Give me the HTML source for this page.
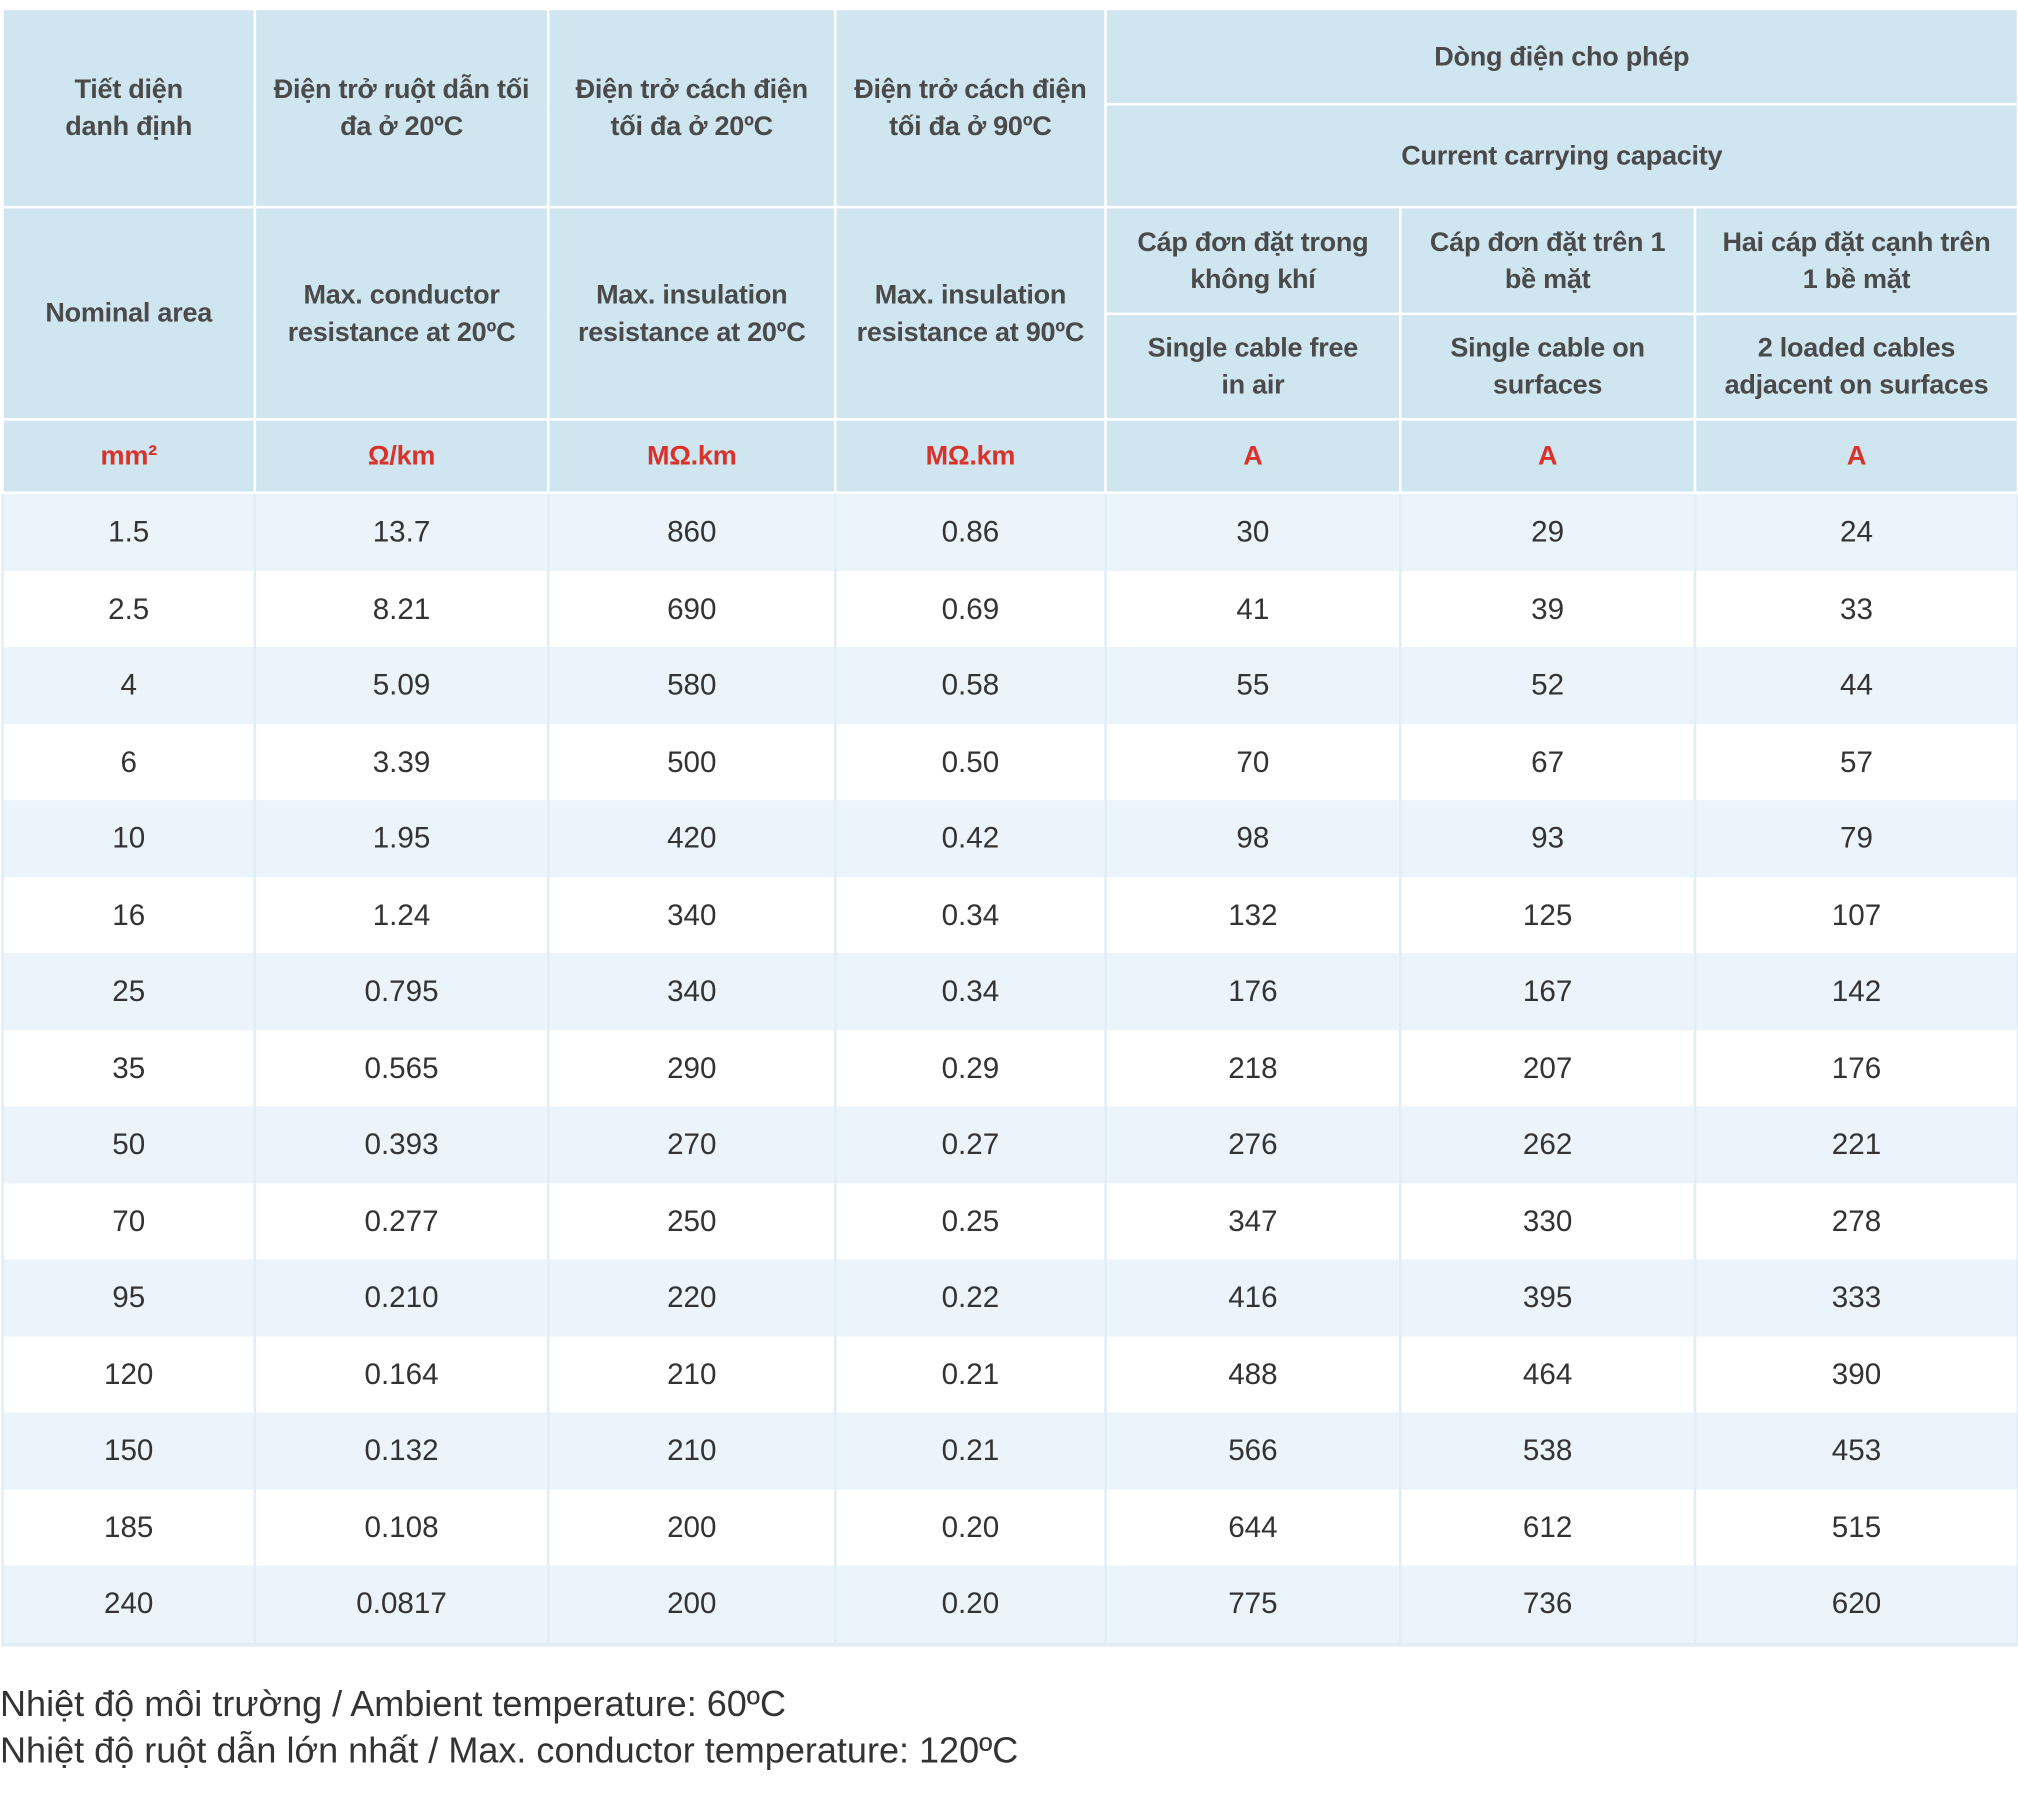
<!DOCTYPE html>
<html><head><meta charset="utf-8">
<style>
html,body{margin:0;padding:0;background:#fff;}
body{width:2018px;height:1810px;overflow:hidden;position:relative;}
#w{position:absolute;left:0;top:0;width:1568px;height:1407px;transform:scale(1.28699,1.2864);transform-origin:0 0;font-family:"Liberation Sans","DejaVu Sans",sans-serif;}
table{position:absolute;left:1px;top:6px;border-collapse:collapse;table-layout:fixed;width:1566px;}
td{text-align:center;vertical-align:middle;padding:0;}
.h td{background:#cfe5f0;border:2.5px solid #fff;color:#4a4a4a;font-weight:bold;font-size:21px;line-height:29px;letter-spacing:-0.2px;white-space:nowrap;}
.h td.u{color:#d8322a;font-size:21px;}
.d td{font-size:23px;color:#333;height:59.5px;border-left:2px solid #e1eef6;border-right:2px solid #e1eef6;}
.d:nth-child(odd) td{background:#eaf4fa;}
.d:nth-child(even) td{background:#fff;}
tr.last td{border-bottom:3px solid #e1eef6;}
.f{position:absolute;left:0;font-size:28px;color:#333;}
</style></head><body><div id="w">
<table>
<colgroup><col style="width:196px"><col style="width:228px"><col style="width:223px"><col style="width:210px"><col style="width:229px"><col style="width:229px"><col style="width:251px"></colgroup>
<tbody>
<tr class="h" style="height:74px"><td rowspan="2">Tiết diện<br>danh định</td><td rowspan="2">Điện trở ruột dẫn tối<br>đa ở 20ºC</td><td rowspan="2">Điện trở cách điện<br>tối đa ở 20ºC</td><td rowspan="2">Điện trở cách điện<br>tối đa ở 90ºC</td><td colspan="3">Dòng điện cho phép</td></tr>
<tr class="h" style="height:80px"><td colspan="3">Current carrying capacity</td></tr>
<tr class="h" style="height:83px"><td rowspan="2">Nominal area</td><td rowspan="2">Max. conductor<br>resistance at 20ºC</td><td rowspan="2">Max. insulation<br>resistance at 20ºC</td><td rowspan="2">Max. insulation<br>resistance at 90ºC</td><td>Cáp đơn đặt trong<br>không khí</td><td>Cáp đơn đặt trên 1<br>bề mặt</td><td>Hai cáp đặt cạnh trên<br>1 bề mặt</td></tr>
<tr class="h" style="height:82px"><td>Single cable free<br>in air</td><td>Single cable on<br>surfaces</td><td>2 loaded cables<br>adjacent on surfaces</td></tr>
<tr class="h" style="height:57px"><td class="u">mm²</td><td class="u">Ω/km</td><td class="u">MΩ.km</td><td class="u">MΩ.km</td><td class="u">A</td><td class="u">A</td><td class="u">A</td></tr>
</tbody>
<tbody>
<tr class="d"><td>1.5</td><td>13.7</td><td>860</td><td>0.86</td><td>30</td><td>29</td><td>24</td></tr>
<tr class="d"><td>2.5</td><td>8.21</td><td>690</td><td>0.69</td><td>41</td><td>39</td><td>33</td></tr>
<tr class="d"><td>4</td><td>5.09</td><td>580</td><td>0.58</td><td>55</td><td>52</td><td>44</td></tr>
<tr class="d"><td>6</td><td>3.39</td><td>500</td><td>0.50</td><td>70</td><td>67</td><td>57</td></tr>
<tr class="d"><td>10</td><td>1.95</td><td>420</td><td>0.42</td><td>98</td><td>93</td><td>79</td></tr>
<tr class="d"><td>16</td><td>1.24</td><td>340</td><td>0.34</td><td>132</td><td>125</td><td>107</td></tr>
<tr class="d"><td>25</td><td>0.795</td><td>340</td><td>0.34</td><td>176</td><td>167</td><td>142</td></tr>
<tr class="d"><td>35</td><td>0.565</td><td>290</td><td>0.29</td><td>218</td><td>207</td><td>176</td></tr>
<tr class="d"><td>50</td><td>0.393</td><td>270</td><td>0.27</td><td>276</td><td>262</td><td>221</td></tr>
<tr class="d"><td>70</td><td>0.277</td><td>250</td><td>0.25</td><td>347</td><td>330</td><td>278</td></tr>
<tr class="d"><td>95</td><td>0.210</td><td>220</td><td>0.22</td><td>416</td><td>395</td><td>333</td></tr>
<tr class="d"><td>120</td><td>0.164</td><td>210</td><td>0.21</td><td>488</td><td>464</td><td>390</td></tr>
<tr class="d"><td>150</td><td>0.132</td><td>210</td><td>0.21</td><td>566</td><td>538</td><td>453</td></tr>
<tr class="d"><td>185</td><td>0.108</td><td>200</td><td>0.20</td><td>644</td><td>612</td><td>515</td></tr>
<tr class="d last"><td>240</td><td>0.0817</td><td>200</td><td>0.20</td><td>775</td><td>736</td><td>620</td></tr>
</tbody>
</table>
<div class="f" style="top:1309px">Nhiệt độ môi trường / Ambient temperature: 60ºC</div>
<div class="f" style="top:1345px">Nhiệt độ ruột dẫn lớn nhất / Max. conductor temperature: 120ºC</div>
</div></body></html>
